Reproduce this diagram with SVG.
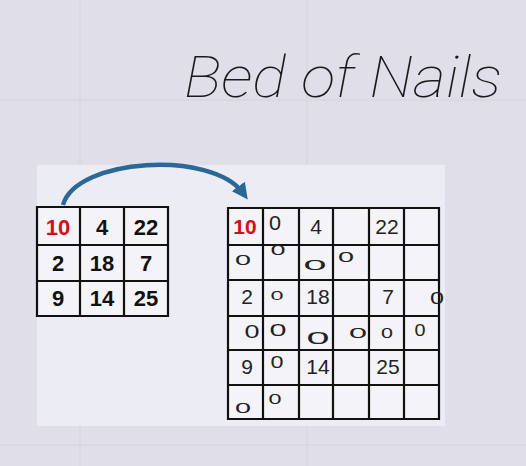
<svg xmlns="http://www.w3.org/2000/svg" width="526" height="466" viewBox="0 0 526 466">
<defs>
<style>
.grid{fill:none;stroke:#111;stroke-width:2.2}
.b{font-family:"Liberation Sans",Arial,sans-serif;font-size:22px;font-weight:bold;fill:#111;text-anchor:middle}
.r{font-family:"Liberation Sans",Arial,sans-serif;font-size:21px;fill:#222;text-anchor:middle}
.red{fill:#d0101a;font-weight:bold}
.z{font-family:"Liberation Sans",Arial,sans-serif;fill:#222;text-anchor:middle}
.faint{stroke:#d4d3de;stroke-width:1}
</style>
<marker id="ah" viewBox="0 0 10 10" refX="5" refY="5" markerWidth="3.6" markerHeight="3.6" orient="auto">
<path d="M0,0 L10,5 L0,10 z" fill="#2b6897"/>
</marker>
</defs>
<rect width="526" height="466" fill="#dfdee9"/>
<line class="faint" x1="80" y1="0" x2="80" y2="466"/>
<line class="faint" x1="307" y1="0" x2="307" y2="466"/>
<line class="faint" x1="0" y1="100" x2="526" y2="100"/>
<line class="faint" x1="0" y1="445" x2="526" y2="445"/>
<rect x="37" y="165" width="408" height="261" fill="#ececf4"/>
<g id="title">
<text x="184" y="97" textLength="318" lengthAdjust="spacingAndGlyphs" font-family="Roboto, 'Open Sans', sans-serif" font-weight="100" font-style="italic" font-size="58" fill="#1a1a1a">Bed of Nails</text>
</g>
<g id="connectors">
<path d="M63 205 C 76 158, 212 150, 243 193" fill="none" stroke="#2b6897" stroke-width="4.5" marker-end="url(#ah)"/>
</g>
<g id="input-grid">
<rect x="37" y="207" width="131" height="109" fill="#f4f4f8"/>
<path class="grid" d="M37 207H168V316H37Z M80 207V316 M124 207V316 M37 245H168 M37 281H168"/>
<text class="b red" x="58" y="235">10</text>
<text class="b" x="102" y="235">4</text>
<text class="b" x="146" y="235">22</text>
<text class="b" x="58" y="271">2</text>
<text class="b" x="102" y="271">18</text>
<text class="b" x="146" y="271">7</text>
<text class="b" x="58" y="306">9</text>
<text class="b" x="102" y="306">14</text>
<text class="b" x="146" y="306">25</text>
</g>
<g id="output-grid">
<rect x="228" y="208" width="211" height="211" fill="#f4f4f8"/>
<path class="grid" d="M228 208H439V419H228Z M263 208V419 M299 208V419 M333 208V419 M369 208V419 M404 208V419 M228 245H439 M228 280H439 M228 316H439 M228 350H439 M228 385H439"/>
<text class="r red" x="245" y="234">10</text>
<text class="r" x="316" y="234">4</text>
<text class="r" x="387" y="234">22</text>
<text class="r" x="247" y="304">2</text>
<text class="r" x="318" y="304">18</text>
<text class="r" x="388" y="304">7</text>
<text class="r" x="247" y="374">9</text>
<text class="r" x="318" y="374">14</text>
<text class="r" x="388" y="374">25</text>
</g>
<g id="zeros">
<text class="z" x="275" y="230" font-size="20" textLength="12" lengthAdjust="spacingAndGlyphs">0</text>
<text class="z" x="243" y="265" font-size="15" textLength="16" lengthAdjust="spacingAndGlyphs">0</text>
<text class="z" x="278" y="255" font-size="15" textLength="15" lengthAdjust="spacingAndGlyphs">0</text>
<text class="z" x="315" y="270" font-size="15" textLength="23" lengthAdjust="spacingAndGlyphs">0</text>
<text class="z" x="346" y="262" font-size="15" textLength="16" lengthAdjust="spacingAndGlyphs">0</text>
<text class="z" x="277" y="300" font-size="13" textLength="13" lengthAdjust="spacingAndGlyphs">0</text>
<text class="z" x="437" y="304" font-size="16" textLength="14" lengthAdjust="spacingAndGlyphs">0</text>
<text class="z" x="252" y="338" font-size="18" textLength="15" lengthAdjust="spacingAndGlyphs">0</text>
<text class="z" x="278" y="336" font-size="17" textLength="17" lengthAdjust="spacingAndGlyphs">0</text>
<text class="z" x="318" y="344" font-size="16" textLength="23" lengthAdjust="spacingAndGlyphs">0</text>
<text class="z" x="358" y="338" font-size="15" textLength="18" lengthAdjust="spacingAndGlyphs">0</text>
<text class="z" x="387" y="338" font-size="14" textLength="12" lengthAdjust="spacingAndGlyphs">0</text>
<text class="z" x="420" y="336" font-size="16" textLength="11" lengthAdjust="spacingAndGlyphs">0</text>
<text class="z" x="277" y="368" font-size="17" textLength="13" lengthAdjust="spacingAndGlyphs">0</text>
<text class="z" x="243" y="413" font-size="15" textLength="16" lengthAdjust="spacingAndGlyphs">0</text>
<text class="z" x="275" y="404" font-size="15" textLength="13" lengthAdjust="spacingAndGlyphs">0</text>
</g>
</svg>
